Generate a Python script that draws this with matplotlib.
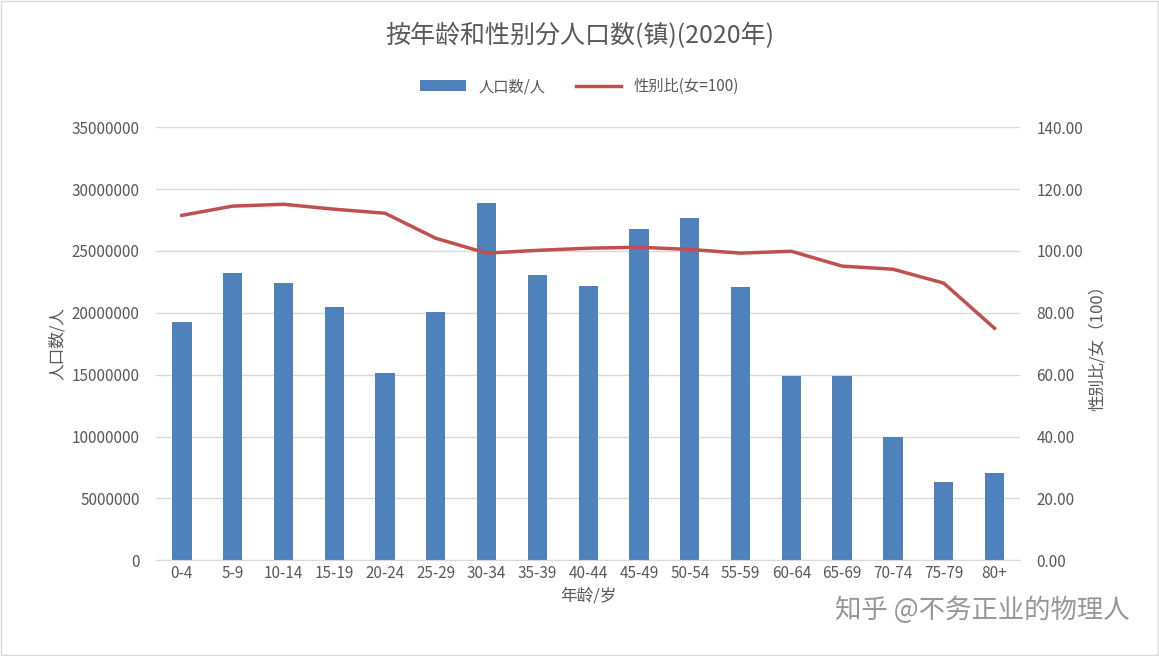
import matplotlib.pyplot as plt
import numpy as np
from matplotlib import rcParams, font_manager
from matplotlib.patches import Rectangle

cjk = [f.name for f in font_manager.fontManager.ttflist if 'CJK' in f.name]
rcParams.update({"font.family": sorted(set(cjk)) + ["DejaVu Sans"], "font.size": 11})

ages = ['0-4', '5-9', '10-14', '15-19', '20-24', '25-29', '30-34', '35-39', '40-44',
        '45-49', '50-54', '55-59', '60-64', '65-69', '70-74', '75-79', '80+']
population = [19240000, 23200000, 22400000, 20450000, 15100000, 20050000, 28860000,
              23040000, 22150000, 26760000, 27650000, 22070000, 14870000, 14870000,
              9940000, 6300000, 7030000]
sex_ratio = [111.5, 114.5, 115.1, 113.5, 112.2, 104.1, 99.3, 100.2, 100.9, 101.2,
             100.5, 99.3, 99.9, 95.1, 94.1, 89.6, 75.0]

fig = plt.figure(figsize=(11.59, 6.56), dpi=100)
ax = fig.add_axes([0.135, 0.146, 0.745, 0.66])
ax2 = ax.twinx()

x = np.arange(len(ages))
bars = ax.bar(x, population, width=0.38, color='#4f81bd', label='人口数/人', zorder=2)
line, = ax2.plot(x, sex_ratio, color='#c0504d', linewidth=2.5, label='性别比(女=100)', zorder=3)

ax.set_xlim(-0.5, len(ages) - 0.5)
ax.set_ylim(0, 35000000)
ax.set_yticks(np.arange(0, 35000001, 5000000))
ax.set_yticklabels([str(v) for v in range(0, 35000001, 5000000)])
ax2.set_ylim(0, 140)
ax2.set_yticks(np.arange(0, 141, 20))
ax2.set_yticklabels([f'{v:.2f}' for v in range(0, 141, 20)])
ax.set_xticks(x, ages)
ax.grid(axis='y', color='#d9d9d9', linewidth=1, zorder=0)
ax.set_axisbelow(True)

for a in (ax, ax2):
    for s in a.spines.values():
        s.set_visible(False)
    a.tick_params(length=0, colors='#595959', labelsize=11)
ax.spines['bottom'].set_visible(True)
ax.spines['bottom'].set_color('#d9d9d9')
ax.tick_params(axis='y', pad=12)
ax2.tick_params(axis='y', pad=12)

ax.set_xlabel('年龄/岁', color='#595959', fontsize=12)
ax.set_ylabel('人口数/人', color='#595959', fontsize=12)
ax2.set_ylabel('性别比/女（100）', color='#595959', fontsize=12)

fig.text(0.5, 0.945, '按年龄和性别分人口数(镇)(2020年)', ha='center', va='center',
         fontsize=18, color='#595959')
fig.legend([bars, line], ['人口数/人', '性别比(女=100)'], loc='center',
           bbox_to_anchor=(0.5, 0.868), ncol=2, frameon=False, fontsize=11,
           labelcolor='#595959', handlelength=3)
fig.text(0.975, 0.07, '知乎 @不务正业的物理人', ha='right', va='center',
         fontsize=19, color='#8c8c8c', alpha=0.9)
fig.patches.append(Rectangle((0.001, 0.001), 0.998, 0.998, transform=fig.transFigure,
                             fill=False, edgecolor='#d9d9d9', linewidth=1))

fig.savefig('out.png', dpi=100)
